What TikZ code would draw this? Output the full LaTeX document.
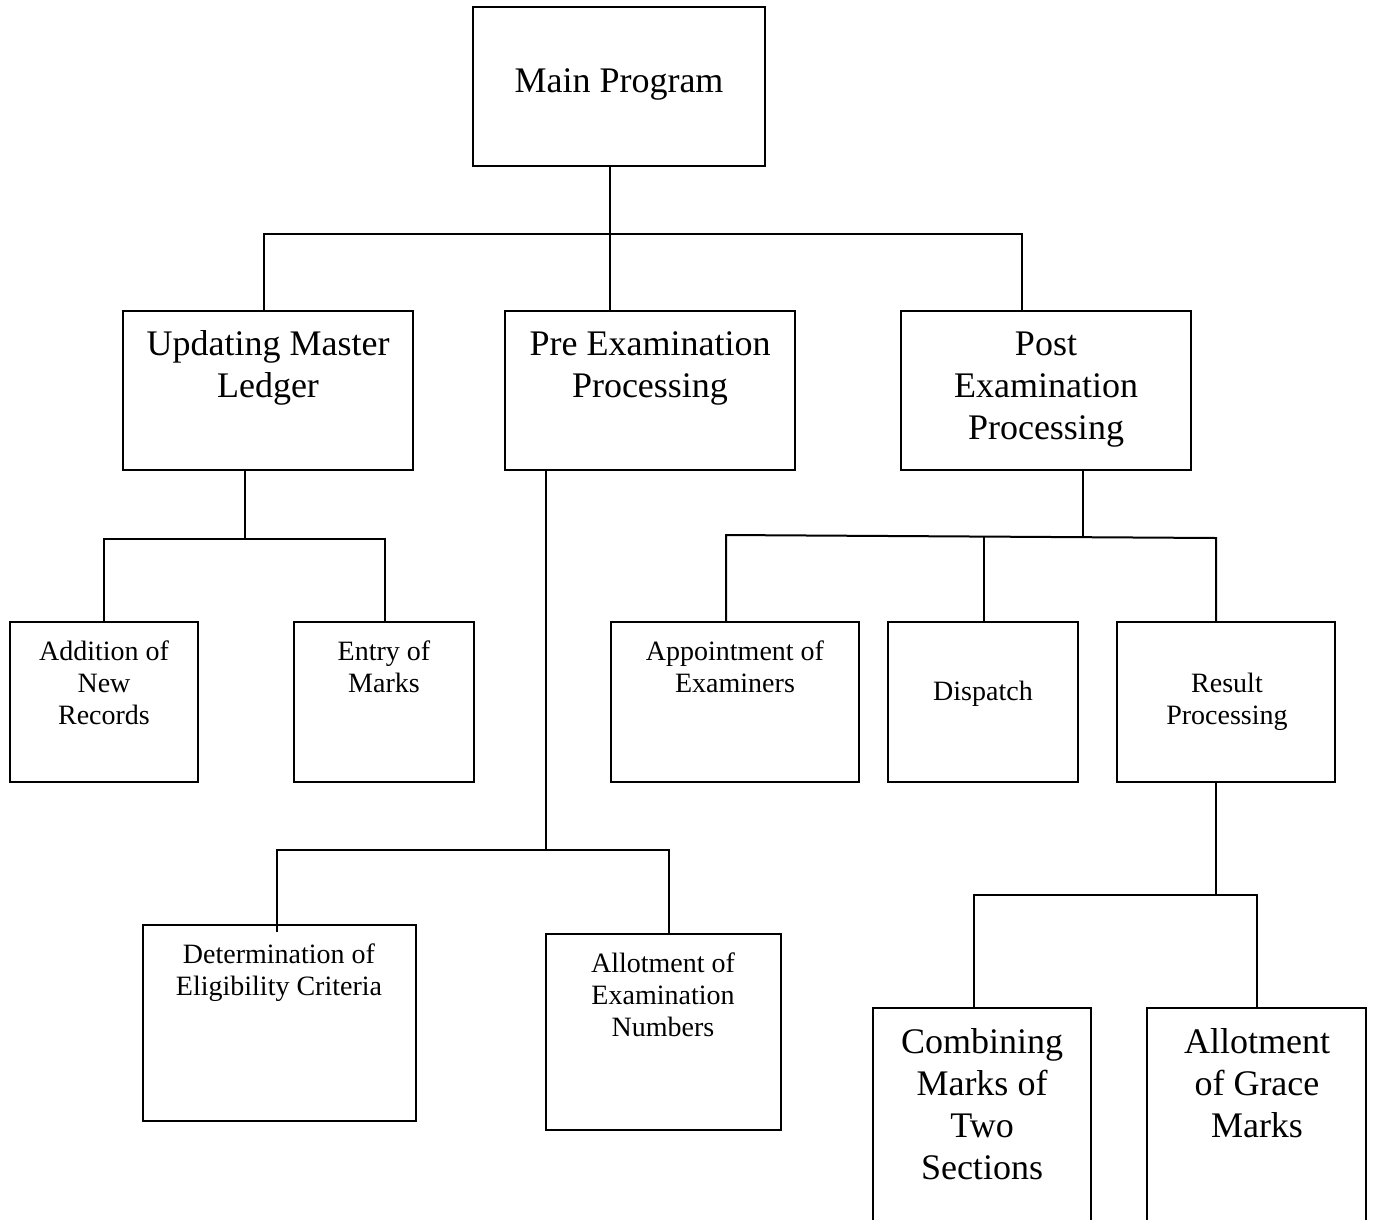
\documentclass[tikz,border=0pt]{standalone}
\usepackage{fontspec}
\setmainfont{Liberation Serif}
\begin{document}
\begin{tikzpicture}[x=1pt,y=-1pt,
  box/.style={draw, line width=2pt, inner sep=0pt, outer sep=0pt, anchor=north west},
  % multi-line labels are placed by the baseline of their last line
  big/.style={font=\fontsize{36}{42}\selectfont, align=center, anchor=base, inner sep=0pt},
  small/.style={font=\fontsize{28}{32}\selectfont, align=center, anchor=base, inner sep=0pt},
  link/.style={line width=2pt}]
\useasboundingbox (0,0) rectangle (1374,1219);
\clip (0,0) rectangle (1374,1219);

% boxes
\node[box, minimum width=292, minimum height=159] (main) at (473,7) {};
\node[box, minimum width=290, minimum height=159] (upd) at (123,311) {};
\node[box, minimum width=290, minimum height=159] (pre) at (505,311) {};
\node[box, minimum width=290, minimum height=159] (post) at (901,311) {};
\node[box, minimum width=188, minimum height=160] (add) at (10,622) {};
\node[box, minimum width=180, minimum height=160] (entry) at (294,622) {};
\node[box, minimum width=248, minimum height=160] (appt) at (611,622) {};
\node[box, minimum width=190, minimum height=160] (disp) at (888,622) {};
\node[box, minimum width=218, minimum height=160] (res) at (1117,622) {};
\node[box, minimum width=273, minimum height=196] (det) at (143,925) {};
\node[box, minimum width=235, minimum height=196] (allot) at (546,934) {};
\node[box, minimum width=218, minimum height=240] (comb) at (873,1008) {};
\node[box, minimum width=219, minimum height=240] (grace) at (1147,1008) {};

% labels
\node[big] (tmain) at (619,92) {Main Program};
\node[big] (tupd) at (268,397) {Updating Master\\Ledger};
\node[big] (tpre) at (650,397) {Pre Examination\\Processing};
\node[big] (tpost) at (1046,439) {Post\\Examination\\Processing};
\node[small] (tadd) at (104,724) {Addition of\\New\\Records};
\node[small] (tentry) at (384,692) {Entry of\\Marks};
\node[small] (tappt) at (735,692) {Appointment of\\Examiners};
\node[small] (tdisp) at (983,700) {Dispatch};
\node[small] (tres) at (1227,724) {Result\\Processing};
\node[small] (tdet) at (279,995) {Determination of\\Eligibility Criteria};
\node[small] (tallot) at (663,1036) {Allotment of\\Examination\\Numbers};
\node[big] (tcomb) at (982,1179) {Combining\\Marks of\\Two\\Sections};
\node[big] (tgrace) at (1257,1137) {Allotment\\of Grace\\Marks};

% bus junctions
\coordinate (b1L) at (264,234); \coordinate (b1M) at (610,234); \coordinate (b1R) at (1022,234);
\coordinate (b2L) at (104,539); \coordinate (b2M) at (245,539); \coordinate (b2R) at (385,539);
\coordinate (b3L) at (277,850); \coordinate (b3M) at (546,850); \coordinate (b3R) at (669,850);
\coordinate (b4L) at (726,535); \coordinate (b4M) at (1083,537); \coordinate (b4C) at (984,537); \coordinate (b4R) at (1216,538);
\coordinate (b5L) at (974,895); \coordinate (b5M) at (1216,895); \coordinate (b5R) at (1257,895);

% main program to level two
\draw[link] (main.south -| b1M) -- (pre.north -| b1M);
\draw[link] (upd.north -| b1L) -- (b1L) -- (b1R) -- (post.north -| b1R);

% updating master ledger
\draw[link] (upd.south -| b2M) -- (b2M);
\draw[link] (add.north -| b2L) -- (b2L) -- (b2R) -- (entry.north -| b2R);

% pre examination processing
\draw[link] (pre.south -| b3M) -- (b3M);
\draw[link] ([yshift=-7pt]det.north -| b3L) -- (b3L) -- (b3R) -- (allot.north -| b3R);

% post examination processing
\draw[link] (post.south -| b4M) -- (b4M);
\draw[link] (appt.north -| b4L) -- (b4L) -- (b4R) -- (res.north -| b4R);
\draw[link] (b4C) -- (disp.north -| b4C);

% result processing
\draw[link] (res.south -| b5M) -- (b5M);
\draw[link] (comb.north -| b5L) -- (b5L) -- (b5R) -- (grace.north -| b5R);
\end{tikzpicture}
\end{document}
